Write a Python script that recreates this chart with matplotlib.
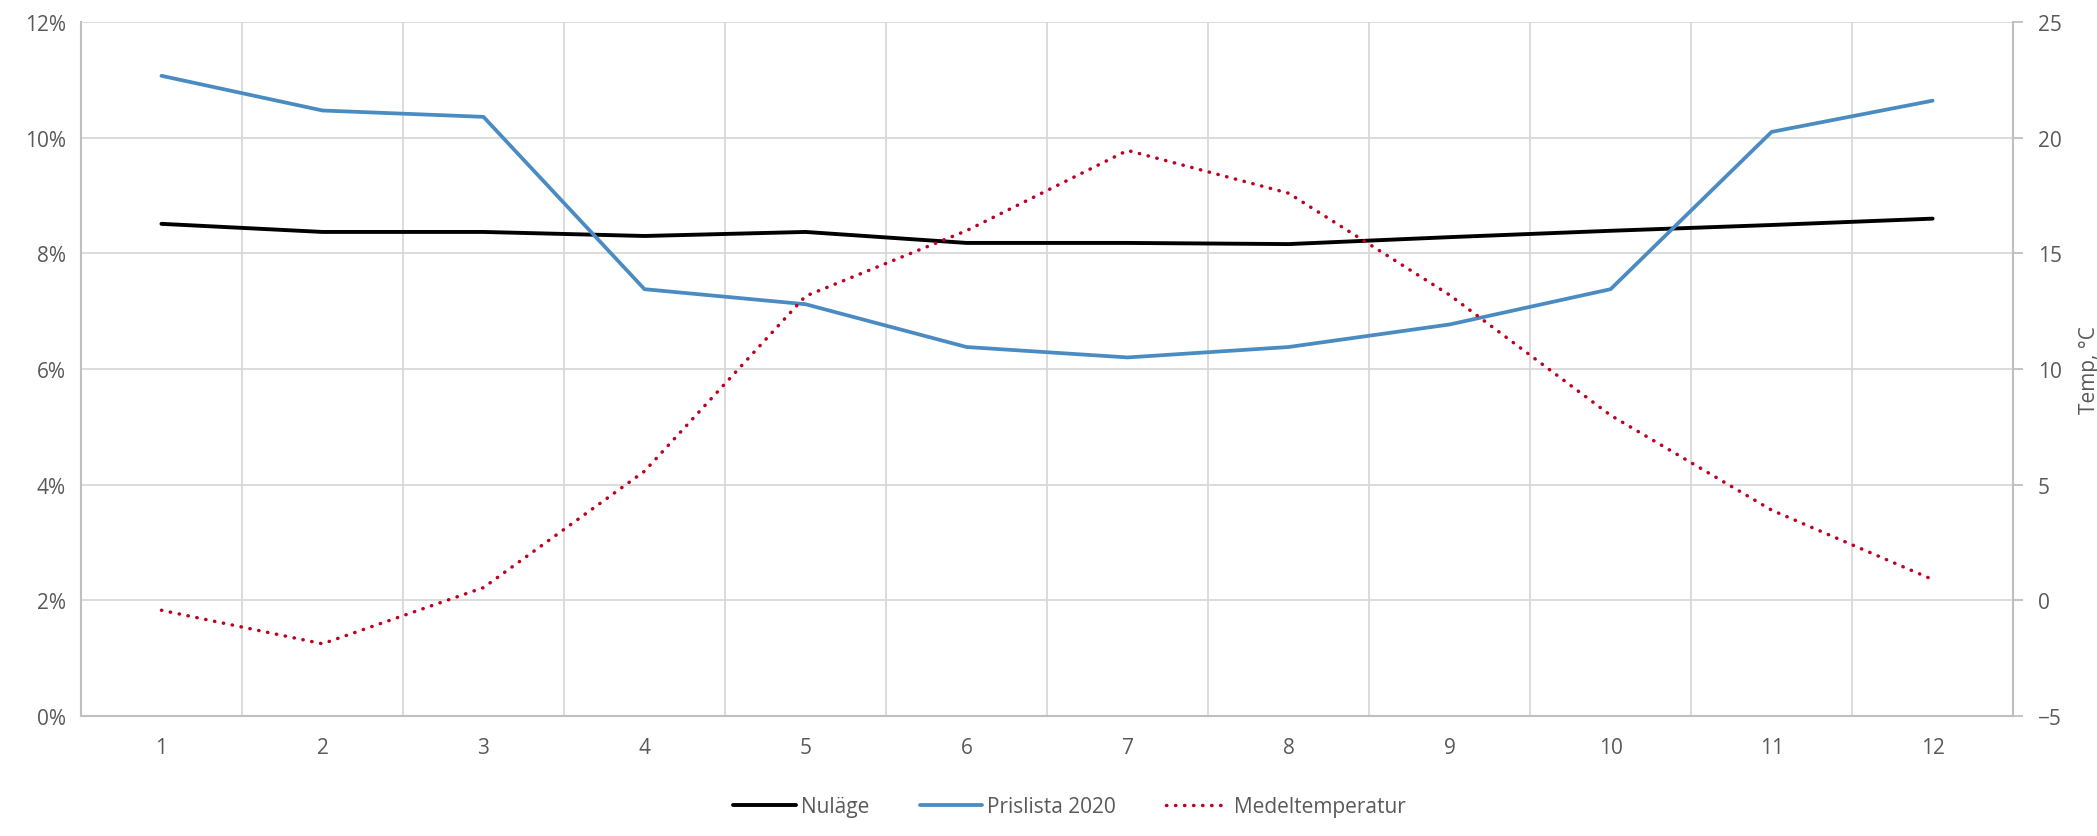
import matplotlib; matplotlib.use("Agg")
import matplotlib.pyplot as plt
from matplotlib.ticker import FuncFormatter

months = list(range(1, 13))
nulage = [8.51, 8.37, 8.37, 8.30, 8.37, 8.18, 8.18, 8.16, 8.28, 8.39, 8.49, 8.60]
prislista = [11.07, 10.47, 10.36, 7.38, 7.12, 6.38, 6.20, 6.38, 6.77, 7.38, 10.10, 10.64]
medeltemp = [-0.43, -1.88, 0.55, 5.58, 13.15, 15.98, 19.45, 17.6, 13.2, 8.0, 3.9, 0.9]

TXT = "#595959"; GRID = "#D9D9D9"; AX = "#BFBFBF"
plt.rcParams["font.family"] = ["Open Sans", "DejaVu Sans"]
FS = 15

fig = plt.figure(figsize=(20.97, 8.37), dpi=100)
ax = fig.add_axes([0.0386, 0.1434, 0.9214, 0.8291])
ax2 = ax.twinx()

l1, = ax.plot(months, nulage, color="black", lw=2.8, solid_capstyle="round", label="Nuläge", zorder=3)
l2, = ax.plot(months, prislista, color="#4A8BC2", lw=2.7, solid_capstyle="round", label="Prislista 2020", zorder=3)
l3, = ax2.plot(months, medeltemp, color="#C00020", lw=2.5, ls=(0, (0.1, 2.5)), dash_capstyle="round", label="Medeltemperatur")

ax.set_xlim(0.5, 12.5)
ax.set_ylim(0, 12)
ax.set_yticks(range(0, 13, 2))
ax.yaxis.set_major_formatter(FuncFormatter(lambda v, p: f"{int(v)}%"))
ax2.set_ylim(-5, 25)
ax2.set_yticks(range(-5, 26, 5))
ax.set_xticks(months)
ax.set_xticks([m + 0.5 for m in months[:-1]], minor=True)

ax.grid(axis="y", color=GRID, lw=1.3)
ax.grid(axis="x", which="minor", color=GRID, lw=1.3)
ax.set_axisbelow(True)
for a in (ax, ax2):
    for s in a.spines.values():
        s.set_visible(False)
ax.spines["left"].set_visible(True); ax.spines["left"].set_color(AX); ax.spines["left"].set_linewidth(1.5)
ax.spines["bottom"].set_visible(True); ax.spines["bottom"].set_color(AX); ax.spines["bottom"].set_linewidth(1.5)
ax2.spines["right"].set_visible(True); ax2.spines["right"].set_color(AX); ax2.spines["right"].set_linewidth(1.5)
ax.tick_params(axis="both", which="both", length=0, colors=TXT, labelsize=FS, pad=11)
ax.tick_params(axis="x", pad=15)
ax2.tick_params(axis="y", length=7, color=AX, width=1.3, colors=TXT, labelsize=FS, pad=11)
ax2.set_ylabel("Temp, °C", color=TXT, fontsize=FS, labelpad=12)

fig.legend(handles=[l1, l2, l3], loc="lower center", bbox_to_anchor=(0.51, 0.0), ncol=3,
           frameon=False, fontsize=FS, labelcolor=TXT, handlelength=3.0, columnspacing=2.4, handletextpad=0.25)

fig.savefig("out.png", dpi=100)
